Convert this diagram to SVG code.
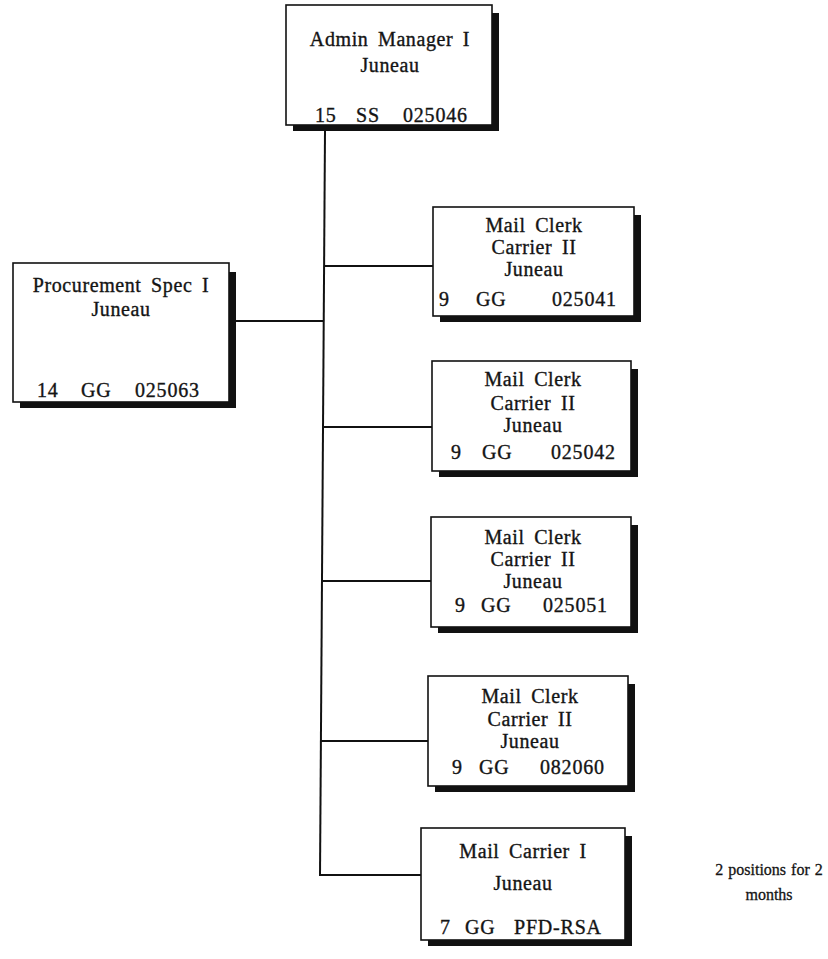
<svg xmlns="http://www.w3.org/2000/svg" width="828" height="959" viewBox="0 0 828 959">
<style>
  .box { fill: #ffffff; stroke: #111111; stroke-width: 1.6; }
  .shadow { fill: #111111; }
  .t { font-family: "Liberation Serif", "Times New Roman", serif; font-size: 20px; fill: #141414; stroke: #141414; stroke-width: 0.35px; text-anchor: middle; letter-spacing: 0.6px; word-spacing: 4px; }
  .n { font-family: "Liberation Serif", "Times New Roman", serif; font-size: 20px; fill: #141414; stroke: #141414; stroke-width: 0.35px; letter-spacing: 0.8px; }
  .note { font-family: "Liberation Serif", "Times New Roman", serif; font-size: 16px; fill: #141414; stroke: #141414; stroke-width: 0.3px; text-anchor: middle; word-spacing: 1px; }
  .c { stroke: #111111; stroke-width: 2; fill: none; }
</style>
<rect width="828" height="959" fill="#ffffff"/>

<g id="connectors">
  <line class="c" x1="325" y1="131" x2="320" y2="876"/>
  <line class="c" x1="236" y1="321" x2="324" y2="321"/>
  <line class="c" x1="324" y1="266" x2="433" y2="266"/>
  <line class="c" x1="323" y1="427" x2="432" y2="427"/>
  <line class="c" x1="322" y1="581" x2="431" y2="581"/>
  <line class="c" x1="321" y1="741" x2="428" y2="741"/>
  <line class="c" x1="320" y1="875" x2="421" y2="875"/>
</g>

<g id="admin-manager">
  <rect class="box" x="286" y="5" width="206" height="120"/>
  <rect class="shadow" x="492" y="13" width="7" height="118"/>
  <rect class="shadow" x="293" y="125" width="206" height="6"/>
  <text class="t" x="390" y="46">Admin Manager I</text>
  <text class="t" x="390" y="72">Juneau</text>
  <text class="n" y="122"><tspan x="315">15</tspan><tspan x="356">SS</tspan><tspan x="403">025046</tspan></text>
</g>

<g id="procurement-spec">
  <rect class="box" x="13" y="263" width="216" height="139"/>
  <rect class="shadow" x="229" y="272" width="7" height="136"/>
  <rect class="shadow" x="20" y="402" width="216" height="6"/>
  <text class="t" x="121" y="292">Procurement Spec I</text>
  <text class="t" x="121" y="316">Juneau</text>
  <text class="n" y="397"><tspan x="37">14</tspan><tspan x="81">GG</tspan><tspan x="135">025063</tspan></text>
</g>

<g id="mail-clerk-025041">
  <rect class="box" x="433" y="207" width="201" height="109"/>
  <rect class="shadow" x="634" y="215" width="7" height="107"/>
  <rect class="shadow" x="440" y="316" width="201" height="6"/>
  <text class="t" x="534" y="232">Mail Clerk</text>
  <text class="t" x="534" y="254">Carrier II</text>
  <text class="t" x="534" y="276">Juneau</text>
  <text class="n" y="306"><tspan x="439">9</tspan><tspan x="476">GG</tspan><tspan x="552">025041</tspan></text>
</g>

<g id="mail-clerk-025042">
  <rect class="box" x="432" y="361" width="199" height="110"/>
  <rect class="shadow" x="631" y="369" width="7" height="108"/>
  <rect class="shadow" x="439" y="471" width="199" height="6"/>
  <text class="t" x="533" y="386">Mail Clerk</text>
  <text class="t" x="533" y="410">Carrier II</text>
  <text class="t" x="533" y="432">Juneau</text>
  <text class="n" y="459"><tspan x="451">9</tspan><tspan x="482">GG</tspan><tspan x="551">025042</tspan></text>
</g>

<g id="mail-clerk-025051">
  <rect class="box" x="431" y="517" width="200" height="110"/>
  <rect class="shadow" x="631" y="525" width="7" height="108"/>
  <rect class="shadow" x="438" y="627" width="200" height="6"/>
  <text class="t" x="533" y="544">Mail Clerk</text>
  <text class="t" x="533" y="566">Carrier II</text>
  <text class="t" x="533" y="588">Juneau</text>
  <text class="n" y="612"><tspan x="455">9</tspan><tspan x="481">GG</tspan><tspan x="543">025051</tspan></text>
</g>

<g id="mail-clerk-082060">
  <rect class="box" x="428" y="676" width="200" height="110"/>
  <rect class="shadow" x="628" y="684" width="7" height="108"/>
  <rect class="shadow" x="435" y="786" width="200" height="6"/>
  <text class="t" x="530" y="703">Mail Clerk</text>
  <text class="t" x="530" y="726">Carrier II</text>
  <text class="t" x="530" y="748">Juneau</text>
  <text class="n" y="774"><tspan x="452">9</tspan><tspan x="479">GG</tspan><tspan x="540">082060</tspan></text>
</g>

<g id="mail-carrier-i">
  <rect class="box" x="421" y="828" width="204" height="112"/>
  <rect class="shadow" x="625" y="836" width="7" height="110"/>
  <rect class="shadow" x="428" y="940" width="204" height="6"/>
  <text class="t" x="523" y="858">Mail Carrier I</text>
  <text class="t" x="523" y="890">Juneau</text>
  <text class="n" y="934"><tspan x="440">7</tspan><tspan x="465">GG</tspan><tspan x="514">PFD-RSA</tspan></text>
</g>

<g id="note">
  <text class="note" x="769" y="875">2 positions for 2</text>
  <text class="note" x="769" y="900">months</text>
</g>
</svg>
